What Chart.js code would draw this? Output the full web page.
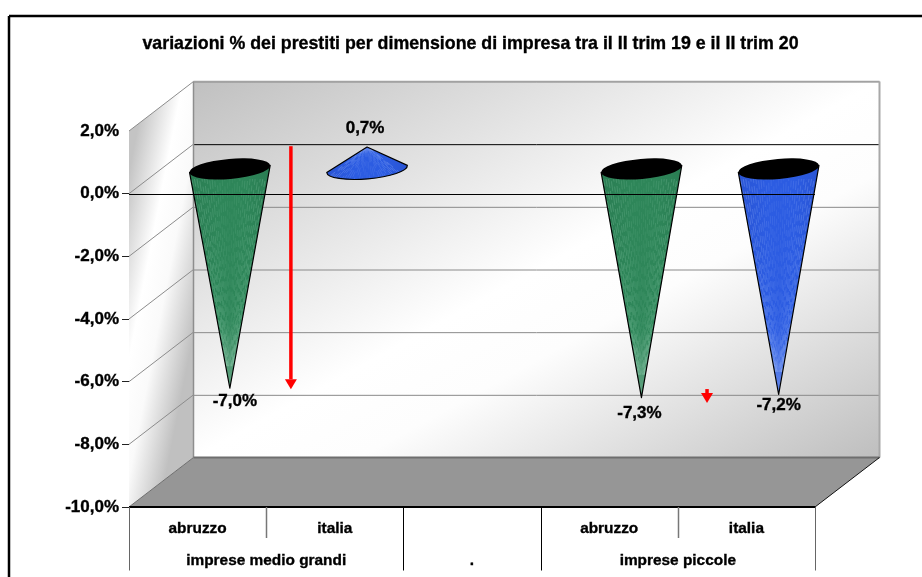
<!DOCTYPE html>
<html>
<head>
<meta charset="utf-8">
<script src="https://cdn.jsdelivr.net/npm/chart.js@4"></script>
<style>
html, body { margin: 0; padding: 0; background: #fff; overflow: hidden; }
#wrap { width: 922px; height: 577px; }
</style>
</head>
<body>
<div id="wrap"><canvas id="chart"></canvas></div>
<script>
const chartTitle = 'variazioni % dei prestiti per dimensione di impresa tra il II trim 19 e il II trim 20';
const categories = ['abruzzo', 'italia', '', 'abruzzo', 'italia'];
const groupLabels = ['imprese medio grandi', '.', 'imprese piccole'];
const groupCentres = [0.5, 2, 3.5];
const groupEdges = [-0.5, 1.5, 2.5, 4.5];
const subEdges = [0.5, 3.5];
const values = [-7.0, 0.7, null, -7.3, -7.2];
const yTickLabels = ['-10,0%', '-8,0%', '-6,0%', '-4,0%', '-2,0%', '0,0%', '2,0%'];

// red arrows in axis units (category position, value)
const arrowPositions = [0.68, 3.713];
const arrowStarts = [1.515, -6.236];
const arrowEnds = [-6.24, -6.68];

const FONT = '"Liberation Sans", Arial, sans-serif';
const DEPTH_X = 64.5;
const DEPTH_Y = 49.5;
const GREEN = { base: '#2e8659', dark: '#2a7d53', light: '#8ccbab' };
const BLUE = { base: '#2c5ce2', dark: '#2954d4', light: '#96b4f8' };
const coneStyles = [GREEN, BLUE, null, GREEN, BLUE];
const labelNudges = [[5, 13], [-2, -19], null, [-2, 16], [0, 11]];

function polygon(ctx, pts) {
    ctx.beginPath();
    pts.forEach((p, i) => i ? ctx.lineTo(p[0], p[1]) : ctx.moveTo(p[0], p[1]));
    ctx.closePath();
}

function line(ctx, x1, y1, x2, y2, color, width) {
    ctx.beginPath();
    ctx.moveTo(x1, y1);
    ctx.lineTo(x2, y2);
    ctx.strokeStyle = color;
    ctx.lineWidth = width;
    ctx.stroke();
}

// the reference text is slightly heavier than plain bold
function heavyText(ctx, text, x, y) {
    ctx.fillText(text, x, y);
    ctx.strokeStyle = '#000';
    ctx.lineWidth = 0.35;
    ctx.strokeText(text, x, y);
}

function drawCone(ctx, cx, baseY, tipY, rx, style) {
    const tilt = -0.087;
    const ry = 10;
    const dx = rx * Math.cos(tilt);
    const dy = rx * Math.sin(tilt);
    const up = tipY < baseY;

    const outline = new Path2D();
    outline.moveTo(cx + dx, baseY + dy);
    outline.lineTo(cx, tipY);
    outline.lineTo(cx - dx, baseY - dy);
    if (up) {
        outline.ellipse(cx, baseY, rx, ry, tilt, Math.PI, 0, true);
    }
    outline.closePath();

    ctx.save();
    const shade = ctx.createLinearGradient(cx - rx, 0, cx + rx, 0);
    shade.addColorStop(0, style.dark);
    shade.addColorStop(0.35, style.base);
    shade.addColorStop(0.7, style.base);
    shade.addColorStop(1, style.dark);
    ctx.fillStyle = shade;
    ctx.fill(outline);

    // thin fan of lighter lines, the striped look of the cone surface
    ctx.save();
    ctx.clip(outline);
    ctx.strokeStyle = style.light;
    ctx.lineWidth = 0.8;
    for (let i = -16; i <= 16; i++) {
        const side = Math.abs(i) / 16;
        ctx.globalAlpha = 0.12 + side * 0.3;
        ctx.setLineDash([6 + (i + 16) % 5, 3 + (i + 16) % 3]);
        ctx.lineDashOffset = i * 3.7;
        ctx.beginPath();
        ctx.moveTo(cx + rx * i / 16, baseY + ry);
        ctx.lineTo(cx + rx * i / 16 * 0.1, baseY + (tipY - baseY) * 0.9);
        ctx.stroke();
    }
    ctx.setLineDash([]);
    ctx.globalAlpha = 1;
    const fade = ctx.createLinearGradient(0, baseY + (tipY - baseY) * 0.7, 0, tipY);
    fade.addColorStop(0, 'rgba(255,255,255,0)');
    fade.addColorStop(1, 'rgba(255,255,255,0.25)');
    ctx.fillStyle = fade;
    ctx.fillRect(cx - rx, Math.min(baseY, tipY) - 12, rx * 2, Math.abs(tipY - baseY) + 24);
    ctx.restore();

    ctx.strokeStyle = '#000';
    ctx.lineWidth = 1.2;
    ctx.lineJoin = 'round';
    ctx.stroke(outline);

    if (!up) {
        ctx.beginPath();
        ctx.ellipse(cx, baseY, rx, ry, tilt, 0, Math.PI * 2);
        ctx.fillStyle = '#000';
        ctx.fill();
    }
    ctx.restore();
}

const scene3d = {
    id: 'scene3d',
    beforeDatasetsDraw(chart) {
        const { ctx, chartArea: a, scales: { y } } = chart;
        const bx = a.left + DEPTH_X;
        const rx = a.right + DEPTH_X;
        const by = a.bottom - DEPTH_Y;
        const ty = a.top - DEPTH_Y;

        // back wall
        const g = ctx.createLinearGradient(378, -20, 696, 559);
        g.addColorStop(0, '#c0c0c0');
        g.addColorStop(0.5, '#ffffff');
        g.addColorStop(0.62, '#fdfdfd');
        g.addColorStop(1, '#bebebe');
        ctx.fillStyle = g;
        ctx.fillRect(bx, ty, rx - bx, by - ty);

        // side wall
        polygon(ctx, [[a.left, a.top], [bx, ty], [bx, by], [a.left, a.bottom]]);
        const s = ctx.createLinearGradient(a.left - 22, 285, bx + 6, 303);
        s.addColorStop(0, '#c4c4c4');
        s.addColorStop(0.38, '#ffffff');
        s.addColorStop(0.62, '#fafafa');
        s.addColorStop(1, '#c0c0c0');
        ctx.fillStyle = s;
        ctx.fill();

        // floor
        polygon(ctx, [[a.left, a.bottom], [bx, by], [rx, by], [a.right, a.bottom]]);
        ctx.fillStyle = '#969696';
        ctx.fill();

        // grid lines on the back wall and their diagonals on the side wall
        y.ticks.forEach(t => {
            const py = y.getPixelForValue(t.value);
            if (t.value !== y.min) {
                line(ctx, a.left, py, bx, py - DEPTH_Y, '#8c8c8c', 1);
            }
            if (t.value === 0) {
                line(ctx, bx, py - DEPTH_Y + 0.5, rx, py - DEPTH_Y + 0.5, '#000', 1);
            } else if (t.value !== y.min) {
                line(ctx, bx, py - DEPTH_Y + 0.5, rx, py - DEPTH_Y + 0.5, '#8a8a8a', 1);
            }
        });

        // wall edges
        line(ctx, bx, ty, bx, by, '#8e8e8e', 1.5);
        line(ctx, bx, ty, rx, ty, '#a2a2a2', 1.5);
        line(ctx, rx, ty, rx, by, '#a8a8a8', 2);
        line(ctx, bx, by, rx, by, '#6e6e6e', 2);
        line(ctx, a.left, a.bottom, bx, by, '#6e6e6e', 1);
        line(ctx, a.right, a.bottom, rx, by, '#111', 1);
    },
    beforeDatasetDraw(chart, args) {
        // cones take the place of the library's flat bars, same element geometry
        const { ctx, scales: { y } } = chart;
        const meta = chart.getDatasetMeta(args.index);
        const baseY = y.getPixelForValue(0) - DEPTH_Y / 2;
        meta.data.forEach((bar, i) => {
            if (values[i] === null) return;
            drawCone(ctx, bar.x + DEPTH_X / 2, baseY, bar.y - DEPTH_Y / 2, bar.width / 2, coneStyles[i]);
        });
        return false;
    },
    afterDatasetsDraw(chart) {
        const { ctx, chartArea: a, scales: { x, y } } = chart;

        // zero line runs in front of the cones
        const zero = Math.round(y.getPixelForValue(0)) + 0.5;
        line(ctx, a.left, zero, a.right, zero, '#000', 1);

        // value labels
        const meta = chart.getDatasetMeta(0);
        ctx.font = 'bold 17px ' + FONT;
        ctx.fillStyle = '#000';
        ctx.textAlign = 'center';
        ctx.textBaseline = 'middle';
        values.forEach((v, i) => {
            if (v === null) return;
            const text = v.toFixed(1).replace('.', ',') + '%';
            const bar = meta.data[i];
            heavyText(ctx, text, bar.x + DEPTH_X / 2 + labelNudges[i][0], bar.y - DEPTH_Y / 2 + labelNudges[i][1]);
        });

        // red arrows
        arrowPositions.forEach((pos, i) => {
            const ax = x.getPixelForValue(pos);
            const y1 = y.getPixelForValue(arrowStarts[i]);
            const y2 = y.getPixelForValue(arrowEnds[i]);
            const head = Math.min(10, y2 - y1);
            line(ctx, ax, y1, ax, y2 - head, '#ff0000', 3.5);
            polygon(ctx, [[ax - 6, y2 - head], [ax + 6, y2 - head], [ax, y2]]);
            ctx.fillStyle = '#ff0000';
            ctx.fill();
        });
    },
    afterDraw(chart) {
        const { ctx, chartArea: a, scales: { x } } = chart;

        // frame: only top and left edges fall inside the picture
        line(ctx, 9, 16, 922, 16, '#000', 2.5);
        line(ctx, 9, 16, 9, 577, '#000', 2.5);

        // title
        ctx.font = 'bold 17.8px ' + FONT;
        ctx.fillStyle = '#000';
        ctx.textAlign = 'center';
        ctx.textBaseline = 'middle';
        heavyText(ctx, chartTitle, 470.5, 44.5);

        // category table under the axis
        line(ctx, a.left, a.bottom, a.right, a.bottom, '#000', 2);
        groupEdges.forEach((e, i) => {
            const c = (i === 0 || i === groupEdges.length - 1) ? '#666' : '#000';
            const ex = Math.round(x.getPixelForValue(e)) + 0.5;
            line(ctx, ex, a.bottom, ex, 570.5, c, 1);
        });
        subEdges.forEach(e => {
            const ex = Math.round(x.getPixelForValue(e)) + 0.5;
            line(ctx, ex, a.bottom, ex, 538, '#777', 1.5);
        });
        ctx.font = 'bold 15.4px ' + FONT;
        groupLabels.forEach((t, i) => {
            heavyText(ctx, t, x.getPixelForValue(groupCentres[i]), 561);
        });
    }
};

new Chart(document.getElementById('chart').getContext('2d'), {
    type: 'bar',
    data: {
        labels: categories,
        datasets: [{
            data: values,
            backgroundColor: coneStyles.map(s => s ? s.base : 'transparent'),
            barPercentage: 0.59,
            categoryPercentage: 1
        }]
    },
    options: {
        responsive: true,
        maintainAspectRatio: false,
        animation: false,
        devicePixelRatio: 1,
        layout: { padding: { left: 0, right: 107, top: 131, bottom: 0 } },
        plugins: {
            legend: { display: false },
            tooltip: { enabled: false },
            title: { display: false }
        },
        scales: {
            x: {
                grid: { display: false },
                border: { display: false },
                afterFit: s => { s.height = 70; },
                ticks: {
                    color: '#000',
                    padding: 5,
                    maxRotation: 0,
                    autoSkip: false,
                    textStrokeColor: '#000',
                    textStrokeWidth: 0.35,
                    font: { family: FONT, size: 15.4, weight: 'bold' }
                }
            },
            y: {
                min: -10,
                max: 2,
                afterFit: s => { s.width = 129; },
                grid: {
                    drawOnChartArea: false,
                    drawTicks: true,
                    tickLength: 7,
                    color: c => (c.tick && c.tick.value === 2) ? 'rgba(0,0,0,0)' : '#222'
                },
                border: { display: true, color: '#333', width: 1 },
                ticks: {
                    stepSize: 2,
                    color: '#000',
                    padding: 3,
                    textStrokeColor: '#000',
                    textStrokeWidth: 0.35,
                    font: { family: FONT, size: 17, weight: 'bold' },
                    callback: (value, index) => yTickLabels[index]
                }
            }
        }
    },
    plugins: [scene3d]
});
</script>
</body>
</html>
